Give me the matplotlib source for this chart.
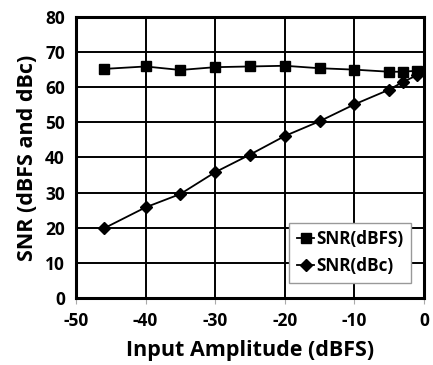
import matplotlib
matplotlib.use('Agg')
from matplotlib import pyplot as plt

# Datos
amplitud = [-46, -40, -35, -30, -25, -20, -15, -10, -5, -3, -1]
snr_dbfs = [65.2, 65.9, 64.9, 65.7, 65.9, 66.1, 65.4, 65.0, 64.4, 64.4, 64.7]
snr_dbc = [19.8, 25.8, 29.6, 35.8, 40.8, 46.1, 50.3, 55.1, 59.3, 61.5, 63.4]

plt.rcParams['font.family'] = ['Open Sans', 'DejaVu Sans']
plt.rcParams['font.weight'] = 'bold'
plt.rcParams['axes.unicode_minus'] = False

fig = plt.figure(figsize=(4.33, 3.65), dpi=100)
ax = fig.add_axes([0.1755, 0.1836, 0.8035, 0.77])

ax.plot(amplitud, snr_dbfs, color='black', marker='s', markersize=7, linewidth=1.3,
        label='SNR(dBFS)')
ax.plot(amplitud, snr_dbc, color='black', marker='D', markersize=6.5, linewidth=1.3,
        label='SNR(dBc)')

ax.set_xlim(-50, 0)
ax.set_ylim(0, 80)
ax.set_xticks(range(-50, 1, 10))
ax.set_yticks(range(0, 81, 10))
ax.grid(True, color='black', linewidth=1.4)
ax.set_axisbelow(True)
for s in ax.spines.values():
    s.set_linewidth(2.2)
ax.tick_params(axis='y', labelsize=12.5, length=0, pad=8)
ax.tick_params(axis='x', labelsize=12.5, length=4, color='#aaaaaa', pad=6)
for lab in ax.get_xticklabels() + ax.get_yticklabels():
    lab.set_fontweight('bold')

ax.set_xlabel('Input Amplitude (dBFS)', fontsize=15.5, fontweight='bold', labelpad=7)
ax.set_ylabel('SNR (dBFS and dBc)', fontsize=15.5, fontweight='bold', labelpad=5)

leg = ax.legend(loc='lower right', bbox_to_anchor=(0.962, 0.055), fontsize=12.3,
                frameon=True, fancybox=False, handlelength=1.0, handletextpad=0.1,
                borderpad=0.45, labelspacing=0.5, borderaxespad=0, framealpha=1)
leg.get_frame().set_edgecolor('#999999')
leg.get_frame().set_linewidth(1)
for t in leg.get_texts():
    t.set_fontweight('bold')

plt.savefig('out.png', dpi=100)
plt.close('all')
